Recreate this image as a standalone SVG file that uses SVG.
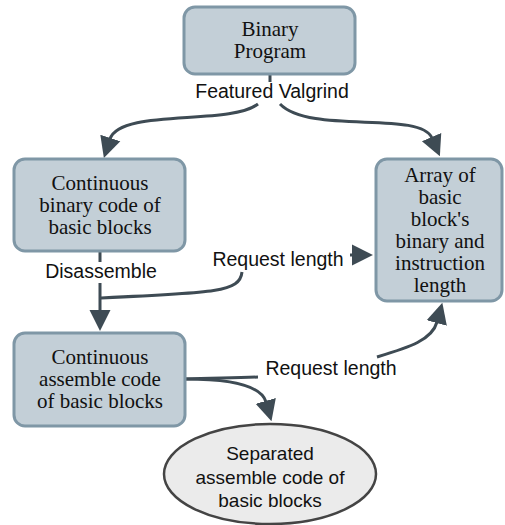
<svg xmlns="http://www.w3.org/2000/svg" width="505" height="525" viewBox="0 0 505 525">
<style>
.box{fill:#c3cfd7;stroke:#7f97a6;stroke-width:3}
.ell{fill:#ebebeb;stroke:#444;stroke-width:2.5}
.st{font-family:"Liberation Serif","Times New Roman",serif;font-size:21px;fill:#111;text-anchor:middle}
.ss{font-family:"Liberation Sans",Arial,sans-serif;font-size:19px;fill:#111;text-anchor:middle}
.lb{font-family:"Liberation Sans",Arial,sans-serif;font-size:19.5px;fill:#111;text-anchor:middle}
.e{fill:none;stroke:#3e4b54;stroke-width:3}
</style>
<defs>
<marker id="ah" viewBox="0 0 10 10" refX="0.5" refY="5" markerWidth="7" markerHeight="8" orient="auto" markerUnits="strokeWidth">
<path d="M0,0 L10,5 L0,10 z" fill="#3e4b54"/>
</marker>
</defs>
<g id="connectors">
<path class="e" d="M270,75 V82"/>
<path class="e" d="M258,104 C230,126 120,108 110,139" marker-end="url(#ah)"/>
<path class="e" d="M280,104 C310,135 420,110 432,138" marker-end="url(#ah)"/>
<path class="e" d="M100,251 V262 M100,283 V311" marker-end="url(#ah)"/>
<path class="e" d="M242,272 C240,292 215,293 100,298"/>
<path class="e" d="M350,255 L353,255" marker-end="url(#ah)"/>
<path class="e" d="M185,379 C210,378 230,378 258,377"/>
<path class="e" d="M377,357 C410,347 432,340 437,322" marker-end="url(#ah)"/>
<path class="e" d="M185,379 C240,379 262,388 266,402" marker-end="url(#ah)"/>
</g>
<g id="labels">
<text class="lb" x="272" y="98">Featured Valgrind</text>
<text class="lb" x="101" y="278">Disassemble</text>
<text class="lb" x="278" y="266">Request length</text>
<text class="lb" x="331" y="375">Request length</text>
</g>
<g id="binary-program">
<rect class="box" x="184" y="7" width="171" height="67" rx="11"/>
<text class="st" x="270" y="36">Binary</text>
<text class="st" x="270" y="58">Program</text>
</g>
<g id="continuous-binary">
<rect class="box" x="14" y="159" width="171" height="92" rx="11"/>
<text class="st" x="100" y="190">Continuous</text>
<text class="st" x="100" y="212">binary code of</text>
<text class="st" x="100" y="234">basic blocks</text>
</g>
<g id="array">
<rect class="box" x="376" y="159" width="126" height="142" rx="11"/>
<text class="st" x="440" y="182">Array of</text>
<text class="st" x="440" y="204">basic</text>
<text class="st" x="440" y="226">block's</text>
<text class="st" x="440" y="248">binary and</text>
<text class="st" x="440" y="270">instruction</text>
<text class="st" x="440" y="292">length</text>
</g>
<g id="continuous-assemble">
<rect class="box" x="14" y="333" width="171" height="93" rx="11"/>
<text class="st" x="100" y="364">Continuous</text>
<text class="st" x="100" y="386">assemble code</text>
<text class="st" x="100" y="408">of basic blocks</text>
</g>
<g id="separated">
<ellipse class="ell" cx="270" cy="474" rx="106" ry="50"/>
<text class="ss" x="270" y="460">Separated</text>
<text class="ss" x="270" y="484">assemble code of</text>
<text class="ss" x="270" y="507">basic blocks</text>
</g>
</svg>
